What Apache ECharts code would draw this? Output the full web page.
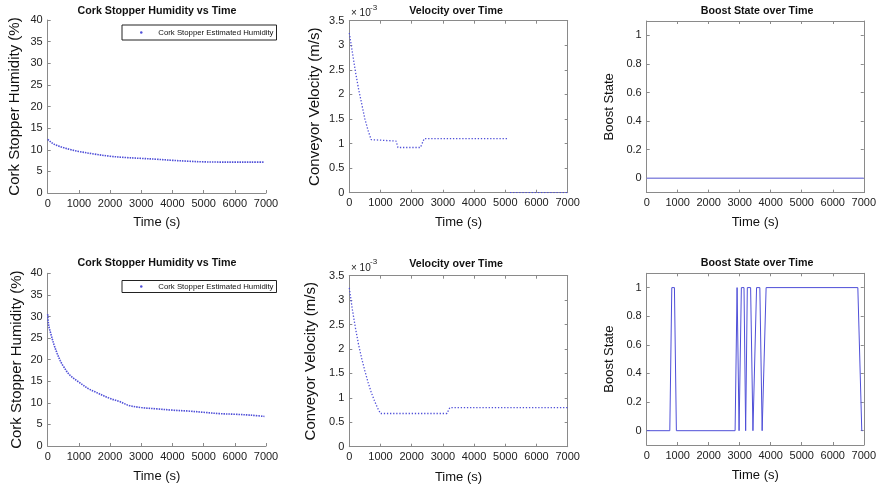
<!DOCTYPE html>
<html><head><meta charset="utf-8">
<script src="https://cdn.jsdelivr.net/npm/echarts@6/dist/echarts.min.js"></script>
<style>html,body{margin:0;padding:0;background:#fff}#c{width:879px;height:487px}</style>
</head><body><div id="c"></div>
<script>
// ---------- data ----------
const timeTicks = [0, 1000, 2000, 3000, 4000, 5000, 6000, 7000];
const boostTicks = [0, 0.2, 0.4, 0.6, 0.8, 1];

const humTopTime = [0, 100, 200, 300, 500, 750, 1000, 1500, 2000, 2500, 3000, 3500, 4000, 4500, 5000, 5500, 6000, 6500, 6950];
const humTopVal  = [12.4, 11.8, 11.3, 11.0, 10.5, 10.0, 9.6, 9.0, 8.5, 8.2, 8.0, 7.8, 7.55, 7.35, 7.2, 7.15, 7.15, 7.15, 7.15];

const velTopTime = [0, 100, 200, 300, 400, 500, 600, 700, 740, 1500, 1560, 2280, 2400, 5100, 5120, 5150, 7000];
const velTopVal  = [3.25e-3, 2.85e-3, 2.45e-3, 2.1e-3, 1.8e-3, 1.5e-3, 1.27e-3, 1.08e-3, 1.05e-3, 1.05e-3, 0.92e-3, 0.92e-3, 1.1e-3, 1.1e-3, null, 0, 0];

const boostTopTime = [0, 7000];
const boostTopVal  = [0, 0];

const humBotTime = [0, 30, 100, 200, 300, 400, 500, 700, 1000, 1300, 1500, 2000, 2300, 2600, 3000, 3500, 4000, 4500, 5000, 5500, 6000, 6500, 6950];
const humBotVal  = [30.5, 28, 26, 23.5, 21.5, 19.8, 18.5, 16.5, 14.8, 13.3, 12.6, 11.0, 10.3, 9.4, 8.9, 8.6, 8.3, 8.1, 7.8, 7.5, 7.35, 7.15, 6.85];

const velBotTime = [0, 100, 200, 300, 400, 500, 600, 700, 800, 900, 1000, 3130, 3220, 7000];
const velBotVal  = [3.25e-3, 2.8e-3, 2.42e-3, 2.08e-3, 1.8e-3, 1.55e-3, 1.32e-3, 1.12e-3, 0.95e-3, 0.8e-3, 0.68e-3, 0.68e-3, 0.8e-3, 0.8e-3];

const boostBotTime = [0, 745, 809, 894, 957, 2851, 2915, 2979, 3053, 3138, 3191, 3245, 3351, 3426, 3543, 3649, 3723, 3851, 6809, 6936, 6960];
const boostBotVal  = [0, 0, 1, 1, 0, 0, 1, 0, 1, 1, 0, 1, 1, 0, 1, 1, 0, 1, 1, 0, 0];

const legendName = 'Cork Stopper Estimated Humidity';

// ---------- styling ----------
const FONT = '"Liberation Sans", Arial, Helvetica, sans-serif';
const AXC = '#8a8a8a';
const BLUE = '#4f4fd8';
const zip = (a, b) => a.map((t, i) => [t, b[i]]);

const grids = [
  {left: 47.7, top: 20, width: 218.3, height: 173},
  {left: 349.3, top: 20.7, width: 218.4, height: 172},
  {left: 646.7, top: 21, width: 218.5, height: 171.6},
  {left: 47.7, top: 273.3, width: 218.3, height: 172.7},
  {left: 349.3, top: 275.7, width: 218.4, height: 171},
  {left: 646.7, top: 273.3, width: 219, height: 171.7}
];

function xMain(gi, gap) {
  return {type: 'value', gridIndex: gi, min: 0, max: 7000, interval: 1000,
    name: 'Time (s)', nameLocation: 'middle', nameGap: gap,
    nameTextStyle: {fontSize: 13, color: '#111', fontFamily: FONT},
    axisLine: {show: true, onZero: false, lineStyle: {color: AXC}},
    axisTick: {show: true, inside: true, length: 3, lineStyle: {color: AXC}},
    axisLabel: {fontSize: 11, color: '#222', margin: 5, fontFamily: FONT, formatter: v => String(v)},
    splitLine: {show: false}};
}
function xMirror(gi) {
  return {type: 'value', gridIndex: gi, position: 'top', min: 0, max: 7000, interval: 1000,
    axisLine: {show: true, onZero: false, lineStyle: {color: AXC}},
    axisTick: {show: true, inside: true, length: 3, lineStyle: {color: AXC}},
    axisLabel: {show: false}, splitLine: {show: false}};
}
function yMain(gi, o) {
  const a = {type: 'value', gridIndex: gi, min: o.min, max: o.max,
    name: o.name, nameLocation: 'middle', nameGap: o.gap,
    nameTextStyle: {fontSize: o.nfs, color: '#111', fontFamily: FONT},
    axisLine: {show: true, onZero: false, lineStyle: {color: AXC}},
    axisTick: {show: true, inside: true, length: 3, lineStyle: {color: AXC}},
    axisLabel: {fontSize: 11, color: '#222', margin: 5, fontFamily: FONT},
    splitLine: {show: false}};
  if (o.interval) a.interval = o.interval;
  if (o.fmt) a.axisLabel.formatter = o.fmt;
  if (o.custom) { a.axisLabel.customValues = o.custom; a.axisTick.customValues = o.custom; }
  return a;
}
function yMirror(gi, o) {
  const a = {type: 'value', gridIndex: gi, position: 'right', min: o.min, max: o.max,
    axisLine: {show: true, onZero: false, lineStyle: {color: AXC}},
    axisTick: {show: true, inside: true, length: 3, lineStyle: {color: AXC}},
    axisLabel: {show: false}, splitLine: {show: false}};
  if (o.interval) a.interval = o.interval;
  if (o.custom) a.axisTick.customValues = o.custom;
  return a;
}

const velFmt = v => String(parseFloat((v * 1000).toFixed(2)));
const humY = g => ({min: 0, max: 40, interval: 5, name: 'Cork Stopper Humidity (%)', gap: g, nfs: 15});
const velY = g => ({min: 0, max: 0.0035, interval: 0.0005, name: 'Conveyor Velocity (m/s)', gap: g, nfs: 15, fmt: velFmt});
const boostY = g => ({min: -0.1, max: 1.1, custom: boostTicks, name: 'Boost State', gap: g, nfs: 13});

const xAxes = [
  xMain(0, 23), xMain(1, 23), xMain(2, 23), xMain(3, 24), xMain(4, 24), xMain(5, 24),
  xMirror(1), xMirror(2), xMirror(4), xMirror(5)
];
const yAxes = [
  yMain(0, humY(25)), yMain(1, velY(27)), yMain(2, boostY(31)),
  yMain(3, humY(23)), yMain(4, velY(31)), yMain(5, boostY(31)),
  yMirror(1, velY(0)), yMirror(2, boostY(0)), yMirror(4, velY(0)), yMirror(5, boostY(0))
];

const titleStyle = {fontSize: 10.7, fontWeight: 'bold', color: '#111', fontFamily: FONT};
const titles = [
  {text: 'Cork Stopper Humidity vs Time', left: 157, top: 6},
  {text: 'Velocity over Time', left: 456, top: 6},
  {text: 'Boost State over Time', left: 757, top: 5.5},
  {text: 'Cork Stopper Humidity vs Time', left: 157, top: 258},
  {text: 'Velocity over Time', left: 456, top: 259},
  {text: 'Boost State over Time', left: 757, top: 257.5}
].map(t => Object.assign(t, {textAlign: 'center', padding: 0, textStyle: titleStyle}));

const humLine = {type: 'line', showSymbol: false, smooth: 0.35, silent: true,
  lineStyle: {color: BLUE, width: 1.6, type: [1.5, 1]}, itemStyle: {color: BLUE}};
const velLine = {type: 'line', showSymbol: false, silent: true, connectNulls: false,
  lineStyle: {color: BLUE, width: 1.3, type: [1.3, 1.8]}, itemStyle: {color: BLUE}};
const solidLine = {type: 'line', showSymbol: false, silent: true,
  lineStyle: {color: BLUE, width: 1}, itemStyle: {color: BLUE}};

const series = [
  Object.assign({}, humLine, {name: legendName, xAxisIndex: 0, yAxisIndex: 0, data: zip(humTopTime, humTopVal)}),
  Object.assign({}, velLine, {name: 'vel1', xAxisIndex: 1, yAxisIndex: 1, data: zip(velTopTime, velTopVal)}),
  Object.assign({}, solidLine, {name: 'boost1', xAxisIndex: 2, yAxisIndex: 2, data: zip(boostTopTime, boostTopVal),
     lineStyle: {color: '#8c8ce0', width: 1.6}}),
  Object.assign({}, humLine, {name: legendName, xAxisIndex: 3, yAxisIndex: 3, data: zip(humBotTime, humBotVal)}),
  Object.assign({}, velLine, {name: 'vel2', xAxisIndex: 4, yAxisIndex: 4, data: zip(velBotTime, velBotVal)}),
  Object.assign({}, solidLine, {name: 'boost2', xAxisIndex: 5, yAxisIndex: 5, data: zip(boostBotTime, boostBotVal)})
];

function legendAt(top, padV) {
  return {left: 122, top: top, orient: 'horizontal', selectedMode: false,
    data: [{name: legendName, icon: 'circle'}],
    itemWidth: 24, itemHeight: 2.5, itemGap: 0,
    padding: [padV, 3, padV, 18], borderColor: '#222', borderWidth: 1, backgroundColor: '#fff',
    textStyle: {fontSize: 7.8, color: '#111', fontFamily: FONT, lineHeight: 9}};
}

const sup = (x, y, ys) => ([
  {type: 'text', left: x, top: y, style: {text: '× 10', fontSize: 10, fill: '#222', fontFamily: FONT}},
  {type: 'text', left: x + 19, top: ys, style: {text: '-3', fontSize: 8, fill: '#222', fontFamily: FONT}}
]);

const chart = echarts.init(document.getElementById('c'), null, {renderer: 'canvas'});
chart.setOption({
  animation: false,
  backgroundColor: '#fff',
  textStyle: {fontFamily: FONT},
  title: titles,
  grid: grids,
  xAxis: xAxes,
  yAxis: yAxes,
  legend: [legendAt(25, 3), legendAt(280.5, 1.5)],
  graphic: [].concat(sup(351, 8, 3.5), sup(351, 263, 258)),
  series: series
});
</script>
</body></html>
